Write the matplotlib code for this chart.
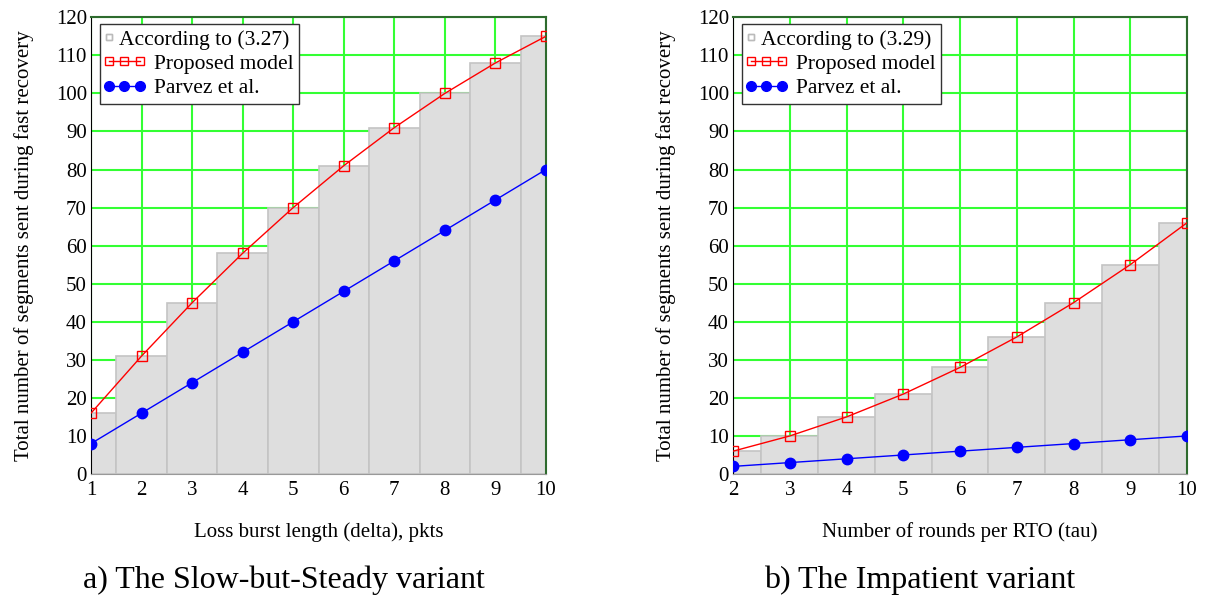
import numpy as np
import matplotlib.pyplot as plt
from matplotlib.lines import Line2D
from matplotlib.legend_handler import HandlerLine2D

plt.rcParams['font.family'] = ['Liberation Serif', 'DejaVu Serif']

# Slow-but-Steady variant
delta = [1, 2, 3, 4, 5, 6, 7, 8, 9, 10]
bars_a = [16, 31, 45, 58, 70, 81, 91, 100, 108, 115]
proposed_a = [16, 31, 45, 58, 70, 81, 91, 100, 108, 115]
parvez_a = [8, 16, 24, 32, 40, 48, 56, 64, 72, 80]

# Impatient variant
tau = [2, 3, 4, 5, 6, 7, 8, 9, 10]
bars_b = [6, 10, 15, 21, 28, 36, 45, 55, 66]
proposed_b = [6, 10, 15, 21, 28, 36, 45, 55, 66]
parvez_b = [2, 3, 4, 5, 6, 7, 8, 9, 10]


# legend handle with a single small marker at the left end
class LeftMarker(HandlerLine2D):
    def get_xdata(self, legend, xdescent, ydescent, width, height, fontsize):
        x0 = -xdescent + 2.5
        return np.array([x0, x0]), np.array([x0])


fig = plt.figure(figsize=(12.09, 6.01), dpi=100)
ax_a = fig.add_axes([0.0753, 0.2113, 0.3763, 0.760])
ax_b = fig.add_axes([0.6063, 0.2113, 0.3755, 0.760])


def draw(ax, x, bars, prop, parv, bar_label, xlabel):
    ax.bar(x, bars, width=1.0, color='#dedede', edgecolor='#c4c4c4',
           linewidth=1.2, zorder=2)
    ax.plot(x, prop, color='red', lw=1, marker='s', ms=6.5, mfc='none',
            mec='red', mew=1, zorder=3)
    ax.plot(x, parv, color='blue', lw=1, marker='o', ms=7.5, mfc='blue',
            mec='blue', zorder=3)
    ax.set_xlim(x[0], x[-1])
    ax.set_ylim(0, 120)
    ax.set_xticks(x)
    ax.set_yticks(np.arange(0, 121, 10))
    ax.grid(True, color='#33ff33', lw=1.5, zorder=0)
    ax.set_axisbelow(True)
    ax.tick_params(labelsize=15, length=0, pad=3)
    ax.tick_params(axis='x', pad=5)
    for s in ['top', 'right']:
        ax.spines[s].set_color('#2e6b2e')
        ax.spines[s].set_linewidth(1.5)
    ax.spines['left'].set_color('black')
    ax.spines['bottom'].set_color('#999999')
    ax.set_xlabel(xlabel, fontsize=15, labelpad=16)
    ax.set_ylabel('Total number of segments sent during fast recovery',
                  fontsize=15, labelpad=16)
    bar_h = Line2D([], [], ls='none', marker='s', ms=4, mfc='none', mec='#bbbbbb')
    handles = [
        bar_h,
        Line2D([], [], color='red', lw=1, marker='s', ms=5.5, mfc='none', mec='red'),
        Line2D([], [], color='blue', lw=1, marker='o', ms=7, mfc='blue', mec='blue'),
    ]
    leg = ax.legend(handles, [bar_label, 'Proposed model', 'Parvez et al.'],
                    loc='upper left', bbox_to_anchor=(0.02, 0.985),
                    fontsize=15.5, fancybox=False, framealpha=1, numpoints=3,
                    edgecolor='#333333', borderpad=0.25, labelspacing=0.2,
                    handlelength=1.75, handletextpad=0.5, borderaxespad=0.0,
                    handler_map={bar_h: LeftMarker(),
                                 Line2D: HandlerLine2D(marker_pad=0.15)})
    leg.get_frame().set_linewidth(1)
    leg.set_zorder(5)
    # first row has a narrow handle, so its text starts further left
    first_row = leg._legend_handle_box.get_children()[0].get_children()[0]
    first_row.get_children()[0].width = 2


draw(ax_a, delta, bars_a, proposed_a, parvez_a, 'According to (3.27)',
     'Loss burst length (delta), pkts')
draw(ax_b, tau, bars_b, proposed_b, parvez_b, 'According to (3.29)',
     'Number of rounds per RTO (tau)')

fig.text(0.235, 0.035, 'a) The Slow-but-Steady variant', ha='center',
         va='center', fontsize=23)
fig.text(0.761, 0.035, 'b) The Impatient variant', ha='center',
         va='center', fontsize=23)

fig.savefig('out.png', dpi=100)
